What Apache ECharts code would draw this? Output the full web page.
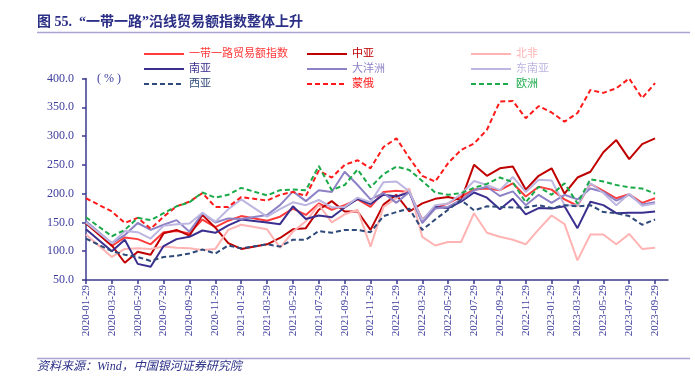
<!DOCTYPE html>
<html>
<head>
<meta charset="utf-8">
<script src="https://cdn.jsdelivr.net/npm/echarts@6/dist/echarts.min.js"></script>
<style>
html,body{margin:0;padding:0;background:#fff;}
#c{width:695px;height:379px;}
</style>
</head>
<body>
<div id="c"></div>
<script>
const categories = [
"2020-01-29","2020-02-29","2020-03-29","2020-04-29","2020-05-29","2020-06-29","2020-07-29","2020-08-29","2020-09-29","2020-10-29","2020-11-29","2020-12-29",
"2021-01-29","2021-02-29","2021-03-29","2021-04-29","2021-05-29","2021-06-29","2021-07-29","2021-08-29","2021-09-29","2021-10-29","2021-11-29","2021-12-29",
"2022-01-29","2022-02-29","2022-03-29","2022-04-29","2022-05-29","2022-06-29","2022-07-29","2022-08-29","2022-09-29","2022-10-29","2022-11-29","2022-12-29",
"2023-01-29","2023-02-29","2023-03-29","2023-04-29","2023-05-29","2023-06-29","2023-07-29","2023-08-29","2023-09-29","2023-10-29"];

const yTicks = [50, 100, 150, 200, 250, 300, 350, 400];

const brIndex   = [150,null,109,124,121,112,133,135,131,155,142,153, 161,null,153,160,174,163,183,172,180,190,177,203, 205,203,155,175,183,195,207,209,206,218,195,212, 207,190,179,217,205,192,199,184,192];
const centralAsia=[148,null,110,80,99,94,131,137,127,163,141,114, 104,null,112,123,138,140,172,187,169,169,137,181, 198,169,183,191,194,189,250,231,244,247,207,231, 244,200,228,238,272,293,260,286,296];
const northAfrica=[129,null,90,104,105,104,108,106,105,102,104,137, 146,null,138,106,134,152,181,150,164,172,108,177, 192,209,125,110,116,116,166,132,125,120,112,138, 162,147,84,129,129,112,130,104,106];
const southAsia = [138,null,100,120,78,73,109,121,125,136,132,145, 155,null,150,147,178,156,162,159,176,191,182,198, 195,202,152,177,175,186,202,193,173,191,164,175, 174,178,140,186,180,166,167,167,169];
const oceania   = [152,null,114,128,149,137,146,154,134,166,150,157, 156,null,163,180,204,187,206,203,238,215,190,201, 184,203,149,174,177,189,206,212,196,204,180,198, 184,198,190,209,203,188,198,181,185];
const seAsia    = [150,null,114,135,133,122,144,147,148,167,151,173, 190,null,160,173,185,180,189,176,177,193,185,220, 221,204,154,180,183,199,222,215,206,229,203,224, 223,180,180,218,201,180,200,179,183];
const westAsia  = [122,null,100,94,90,83,90,92,96,103,96,110, 105,null,112,108,120,120,135,132,137,137,133,161, 168,174,137,155,172,189,171,178,177,176,176,180, 175,180,178,180,168,166,161,146,155];
const mongRus   = [192,null,169,149,158,139,160,178,186,201,177,177, 194,null,188,198,203,196,240,228,250,258,244,281, 296,262,231,221,253,276,287,311,360,361,331,352, 341,325,340,380,375,383,400,366,392];
const europe    = [159,null,126,137,158,154,166,178,185,202,193,198, 210,null,197,206,207,206,248,206,215,242,211,234, 247,241,222,202,198,201,210,217,228,220,185,212, 198,218,183,225,221,215,211,209,200];

const seriesDefs = [
  {name:"一带一路贸易额指数", data:brIndex,    color:"#FF3B3B", type:"solid"},
  {name:"中亚",             data:centralAsia, color:"#C00000", type:"solid"},
  {name:"北非",             data:northAfrica, color:"#FFB3B3", type:"solid"},
  {name:"南亚",             data:southAsia,   color:"#3A2F8F", type:"solid"},
  {name:"大洋洲",           data:oceania,     color:"#8E82C6", type:"solid"},
  {name:"东南亚",           data:seAsia,      color:"#BDB6E0", type:"solid"},
  {name:"西亚",             data:westAsia,    color:"#2F4A7A", type:"dashed"},
  {name:"蒙俄",             data:mongRus,     color:"#FF1A1A", type:"dashed"},
  {name:"欧洲",             data:europe,      color:"#1BAA4A", type:"dashed"}
];

const serif = '"Liberation Serif","Noto Sans CJK SC",serif';
const axisColor = "#3A3A8C";

function legendCol(left, names){
  return {
    orient:"vertical", left:left, top:48.5, padding:0, itemWidth:40, itemHeight:11, itemGap:4,
    selectedMode:false,
    itemStyle:{opacity:0},
    textStyle:{fontFamily:serif, fontSize:11, lineHeight:11, padding:[0,0,0,0]},
    data:names.map(n=>{
      const d = seriesDefs.find(s=>s.name===n);
      return {name:n, textStyle:{color:d.color}};
    })
  };
}

const chart = echarts.init(document.getElementById('c'), null, {renderer:'canvas'});
chart.setOption({
  animation:false,
  backgroundColor:"#fff",
  grid:{left:86, right:27, top:78.5, bottom:99, containLabel:false},
  legend:[
    legendCol(143, ["一带一路贸易额指数","南亚","西亚"]),
    legendCol(306, ["中亚","大洋洲","蒙俄"]),
    legendCol(470, ["北非","东南亚","欧洲"])
  ],
  xAxis:{
    type:"category", data:categories, boundaryGap:false,
    axisLine:{lineStyle:{color:axisColor, width:1.5}},
    axisTick:{interval:1, length:4, lineStyle:{color:axisColor, width:1.5}},
    axisLabel:{interval:1, rotate:90, margin:5, color:"#3D3D9E", fontFamily:serif, fontSize:11},
    splitLine:{show:false}
  },
  yAxis:{
    type:"value", min:yTicks[0], max:yTicks[yTicks.length-1], interval:50,
    axisLine:{show:true, lineStyle:{color:axisColor, width:1.5}},
    axisTick:{show:true, length:4, lineStyle:{color:axisColor, width:1.5}},
    axisLabel:{formatter:v=>v.toFixed(1), color:"#3D3D9E", fontFamily:serif, fontSize:12, margin:12},
    splitLine:{show:false}
  },
  series:seriesDefs.map(s=>({
    name:s.name, type:"line", data:s.data, symbol:"none", connectNulls:true,
    lineStyle:{color:s.color, width:2, type:s.type==="dashed"?[5,3]:"solid"},
    itemStyle:{color:s.color}
  })),
  graphic:[
    {type:"text", left:37, top:15, style:{text:"图 55.  “一带一路”沿线贸易额指数整体上升", fill:"#2B2F86", font:'bold 14px "Liberation Serif","Noto Sans CJK SC",serif'}},
    {type:"line", shape:{x1:37, y1:32.5, x2:690, y2:32.5}, style:{stroke:"#A9A5D3", lineWidth:1.5}},
    {type:"text", left:97, top:73, style:{text:"( % )", fill:"#3D3D9E", font:'12px "Liberation Serif",serif'}},
    {type:"line", shape:{x1:37, y1:358.5, x2:690, y2:358.5}, style:{stroke:"#A9A5D3", lineWidth:1.5}},
    {type:"text", left:37, top:361, style:{text:"资料来源：Wind，中国银河证券研究院", fill:"#2B2F86", font:'italic 12px "Liberation Serif","Noto Sans CJK SC",serif'}}
  ]
});
</script>
</body>
</html>
